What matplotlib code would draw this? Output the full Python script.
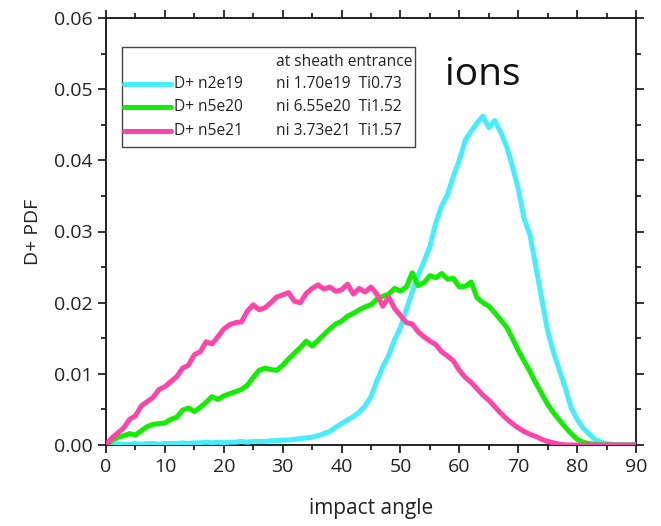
import matplotlib
matplotlib.use("Agg")
import matplotlib.pyplot as plt
from matplotlib.patches import Rectangle
from matplotlib.lines import Line2D
from matplotlib.ticker import MultipleLocator
import numpy as np

plt.rcParams['font.family'] = ['Open Sans', 'DejaVu Sans']

angle = list(range(0, 91))

pdf_n2e19 = [0.0000, 0.0001, 0.0001, 0.0001, 0.0001, 0.0002, 0.0001, 0.0002, 0.0002, 0.0001,
             0.0002, 0.0002, 0.0002, 0.0003, 0.0002, 0.0003, 0.0003, 0.0004, 0.0003, 0.0004,
             0.0003, 0.0004, 0.0004, 0.0005, 0.0004, 0.0005, 0.0005, 0.0005, 0.0006, 0.0006,
             0.0007, 0.0007, 0.0008, 0.0009, 0.0010, 0.0011, 0.0013, 0.0016, 0.0019, 0.0025,
             0.0030, 0.0035, 0.0040, 0.0046, 0.0055, 0.0068, 0.0090, 0.0110, 0.0126, 0.0148,
             0.0165, 0.0190, 0.0215, 0.0238, 0.0258, 0.0279, 0.0312, 0.0336, 0.0352, 0.0378,
             0.0400, 0.0428, 0.0441, 0.0452, 0.0462, 0.0446, 0.0456, 0.0440, 0.0420, 0.0392,
             0.0360, 0.0318, 0.0295, 0.0250, 0.0205, 0.0160, 0.0130, 0.0105, 0.0080, 0.0052,
             0.0036, 0.0024, 0.0016, 0.0008, 0.0004, 0.0002, 0.0001, 0.0000, 0.0000, 0.0000,
             0.0000]

pdf_n5e20 = [0.0000, 0.0006, 0.0011, 0.0013, 0.0016, 0.0014, 0.0020, 0.0026, 0.0029, 0.0030,
             0.0031, 0.0036, 0.0039, 0.0049, 0.0052, 0.0047, 0.0053, 0.0060, 0.0068, 0.0064,
             0.0069, 0.0072, 0.0075, 0.0078, 0.0084, 0.0095, 0.0105, 0.0108, 0.0106, 0.0105,
             0.0112, 0.0121, 0.0129, 0.0137, 0.0146, 0.0139, 0.0147, 0.0155, 0.0163, 0.0170,
             0.0174, 0.0181, 0.0185, 0.0190, 0.0194, 0.0197, 0.0205, 0.0209, 0.0212, 0.0220,
             0.0216, 0.0222, 0.0242, 0.0224, 0.0228, 0.0238, 0.0235, 0.0241, 0.0233, 0.0234,
             0.0222, 0.0223, 0.0229, 0.0207, 0.0200, 0.0195, 0.0186, 0.0176, 0.0166, 0.0150,
             0.0133, 0.0118, 0.0103, 0.0087, 0.0072, 0.0057, 0.0045, 0.0035, 0.0025, 0.0016,
             0.0008, 0.0004, 0.0002, 0.0001, 0.0000, 0.0000, 0.0000, 0.0000, 0.0000, 0.0000,
             0.0000]

pdf_n5e21 = [0.0000, 0.0010, 0.0017, 0.0024, 0.0036, 0.0041, 0.0055, 0.0061, 0.0067, 0.0078,
             0.0082, 0.0089, 0.0096, 0.0108, 0.0112, 0.0127, 0.0131, 0.0145, 0.0142, 0.0152,
             0.0163, 0.0169, 0.0172, 0.0173, 0.0188, 0.0197, 0.0190, 0.0193, 0.0200, 0.0208,
             0.0211, 0.0214, 0.0202, 0.0200, 0.0213, 0.0220, 0.0225, 0.0219, 0.0222, 0.0216,
             0.0218, 0.0226, 0.0212, 0.0220, 0.0215, 0.0222, 0.0212, 0.0195, 0.0208, 0.0192,
             0.0182, 0.0172, 0.0170, 0.0159, 0.0152, 0.0146, 0.0141, 0.0131, 0.0125, 0.0118,
             0.0105, 0.0095, 0.0088, 0.0079, 0.0070, 0.0063, 0.0054, 0.0045, 0.0037, 0.0030,
             0.0024, 0.0019, 0.0015, 0.0012, 0.0008, 0.0005, 0.0003, 0.0001, 0.0000, 0.0000,
             0.0000, 0.0000, 0.0000, 0.0000, 0.0000, 0.0000, 0.0000, 0.0000, 0.0000, 0.0000,
             0.0000]

series_labels = ["D+ n2e19", "D+ n5e20", "D+ n5e21"]
series_info = ["ni 1.70e19  Ti0.73", "ni 6.55e20  Ti1.52", "ni 3.73e21  Ti1.57"]
legend_header = "at sheath entrance"
colors = ["#44EEFB", "#11EE00", "#FF44AA"]

fig = plt.figure(figsize=(6.61, 5.26), dpi=100)
ax = fig.add_axes([106/661, 81/526, 530/661, 427/526])

for y, c in zip([pdf_n2e19, pdf_n5e20, pdf_n5e21], colors):
    ax.plot(angle, y, color=c, lw=3.6, solid_joinstyle='round', solid_capstyle='round', zorder=3)

ax.set_xlim(0, 90)
ax.set_ylim(0, 0.06)
ax.xaxis.set_major_locator(MultipleLocator(10))
ax.xaxis.set_minor_locator(MultipleLocator(5))
ax.yaxis.set_major_locator(MultipleLocator(0.01))
ax.yaxis.set_minor_locator(MultipleLocator(0.005))
ax.yaxis.set_major_formatter(matplotlib.ticker.FormatStrFormatter('%.2f'))
ax.tick_params(which='both', direction='out', top=True, right=True, labelsize=14, colors='#222222', width=1.3)
ax.tick_params(which='major', length=6)
ax.tick_params(which='minor', length=3.5)
for s in ax.spines.values():
    s.set_linewidth(1.3)
    s.set_color('#111111')

ax.set_xlabel("impact angle", fontsize=15, labelpad=16, color='#222222')
ax.set_ylabel("D+ PDF", fontsize=14, labelpad=9, color='#222222')

ax.text(0.711, 0.867, "ions", transform=ax.transAxes, fontsize=28, ha='center', va='center', color='#111111')

# legend box
ax.add_patch(Rectangle((0.030, 0.698), 0.553, 0.234, transform=ax.transAxes,
                       facecolor='white', edgecolor='#444444', lw=1.0, zorder=5))
ax.text(0.321, 0.897, legend_header, transform=ax.transAxes, fontsize=11.2, va='center', ha='left', zorder=6, color='#222222')
for i, (lab, info, c) in enumerate(zip(series_labels, series_info, colors)):
    yy = [0.845, 0.792, 0.735][i]
    ax.add_line(Line2D([0.034, 0.122], [yy, yy], transform=ax.transAxes, color=c, lw=3.6,
                       solid_capstyle='round', zorder=6))
    ax.text(0.128, yy, lab, transform=ax.transAxes, fontsize=11.2, va='center', ha='left', zorder=6, color='#222222')
    ax.text(0.321, yy, info, transform=ax.transAxes, fontsize=11.2, va='center', ha='left', zorder=6, color='#222222')

fig.savefig("out.png", dpi=100)
